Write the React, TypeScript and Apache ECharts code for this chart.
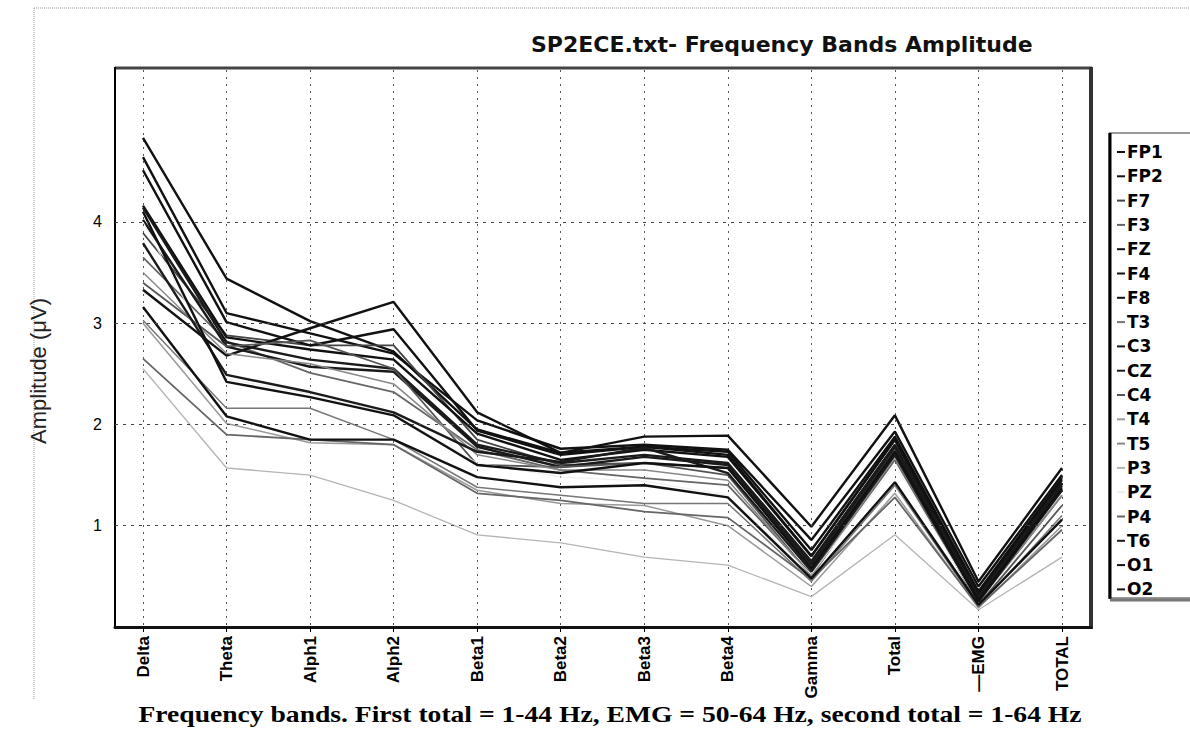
import React, { useEffect, useRef } from "react";
import * as echarts from "echarts";

const categories = ["Delta", "Theta", "Alph1", "Alph2", "Beta1", "Beta2", "Beta3", "Beta4", "Gamma", "Total", "—EMG", "TOTAL"];
const yTicks = [1, 2, 3, 4];

const fp1 = [4.83, 3.44, 3.02, 2.72, 1.95, 1.72, 1.78, 1.70, 0.70, 1.85, 0.30, 1.42];
const fp2 = [4.64, 3.10, 2.90, 2.70, 2.04, 1.76, 1.80, 1.75, 0.86, 1.93, 0.40, 1.50];
const f7 = [3.89, 2.88, 2.78, 2.78, 1.85, 1.60, 1.62, 1.57, 0.60, 1.75, 0.27, 1.38];
const f3 = [3.65, 2.82, 2.51, 2.32, 1.75, 1.55, 1.47, 1.40, 0.52, 1.65, 0.24, 1.30];
const fz = [4.51, 3.01, 2.78, 2.94, 1.94, 1.70, 1.78, 1.73, 0.76, 1.88, 0.35, 1.47];
const f4 = [3.33, 2.68, 2.95, 3.21, 2.12, 1.72, 1.88, 1.89, 0.99, 2.09, 0.45, 1.57];
const f8 = [4.16, 2.86, 2.74, 2.64, 1.91, 1.65, 1.75, 1.68, 0.70, 1.85, 0.33, 1.45];
const t3 = [3.03, 2.16, 2.16, 1.85, 1.38, 1.30, 1.22, 1.22, 0.45, 1.40, 0.20, 1.10];
const c3 = [4.14, 2.81, 2.64, 2.55, 1.80, 1.62, 1.70, 1.62, 0.65, 1.80, 0.30, 1.42];
const cz = [4.02, 2.77, 2.57, 2.52, 1.78, 1.58, 1.68, 1.60, 0.62, 1.78, 0.28, 1.40];
const c4 = [3.40, 2.77, 2.83, 2.55, 1.60, 1.58, 1.62, 1.50, 0.50, 1.70, 0.22, 1.20];
const t4 = [3.00, 2.01, 1.82, 1.80, 1.35, 1.22, 1.20, 1.00, 0.40, 1.32, 0.19, 1.00];
const t5 = [3.50, 2.70, 2.60, 2.40, 1.70, 1.55, 1.55, 1.45, 0.50, 1.68, 0.25, 1.30];
const p3 = [2.55, 1.57, 1.50, 1.25, 0.91, 0.83, 0.69, 0.61, 0.30, 0.91, 0.17, 0.69];
const pz = [4.00, 2.45, 2.30, 2.10, 1.62, 1.48, 1.44, 1.30, 0.52, 1.60, 0.24, 1.25];
const p4 = [2.65, 1.90, 1.85, 1.80, 1.32, 1.25, 1.14, 1.08, 0.47, 1.28, 0.20, 0.96];
const t6 = [3.79, 2.49, 2.32, 2.12, 1.73, 1.63, 1.77, 1.52, 0.55, 1.70, 0.25, 1.35];
const o1 = [4.10, 2.42, 2.27, 2.09, 1.60, 1.52, 1.62, 1.57, 0.58, 1.73, 0.26, 1.37];
const o2 = [3.16, 2.08, 1.85, 1.85, 1.48, 1.38, 1.40, 1.28, 0.48, 1.43, 0.22, 1.06];

const channelNames = ["FP1", "FP2", "F7", "F3", "FZ", "F4", "F8", "T3", "C3", "CZ", "C4", "T4", "T5", "P3", "PZ", "P4", "T6", "O1", "O2"];
const channelData = [fp1, fp2, f7, f3, fz, f4, f8, t3, c3, cz, c4, t4, t5, p3, pz, p4, t6, o1, o2];
const channelColors = ["#111", "#111", "#444", "#666", "#111", "#111", "#111", "#777", "#1a1a1a", "#1a1a1a", "#555", "#999", "#888", "#b5b5b5", "#eeeeee", "#666", "#1a1a1a", "#111", "#111"];
const channelWidths = [2.4, 2.4, 1.8, 1.8, 2.4, 2.4, 2.4, 1.5, 2.4, 2.4, 1.8, 1.5, 1.5, 1.3, 1, 1.8, 2.4, 2.4, 2.4];

export default function App() {
  const ref = useRef<HTMLDivElement>(null);
  useEffect(() => {
    if (!ref.current) return;
    const chart = echarts.init(ref.current, null, { renderer: "svg" });
    const lineSeries = channelNames.map((name, i) => ({
      name,
      type: "line",
      xAxisIndex: 0,
      yAxisIndex: 0,
      data: channelData[i],
      symbol: "none",
      z: 3,
      color: channelColors[i],
      lineStyle: { color: channelColors[i], width: channelWidths[i] },
    }));
    const option: any = {
      animation: false,
      textStyle: { fontFamily: "Liberation Sans" },
      title: {
        text: "SP2ECE.txt- Frequency Bands Amplitude",
        left: 531,
        top: 33,
        padding: 0,
        textStyle: { fontFamily: "DejaVu Sans", fontWeight: "bold", fontSize: 22, color: "#111" },
      },
      legend: {
        data: channelNames,
        orient: "vertical",
        left: 1117,
        top: 142,
        padding: 0,
        icon: "rect",
        itemWidth: 8,
        itemHeight: 2,
        itemGap: 4.3,
        selectedMode: false,
        textStyle: { fontFamily: "DejaVu Sans", fontWeight: "bold", fontSize: 17, lineHeight: 20, color: "#000", padding: [0, 0, 0, -3] },
      },
      grid: [
        { left: 143, right: 128, top: 70, bottom: 105 },
        { left: 115, right: 99, top: 70, bottom: 105 },
      ],
      xAxis: [
        {
          gridIndex: 0,
          type: "category",
          data: categories,
          boundaryGap: false,
          axisLine: { show: false },
          axisTick: { show: true, length: 5, lineStyle: { color: "#000" } },
          axisLabel: { rotate: 90, margin: 9, fontWeight: "bold", fontSize: 17, color: "#000", interval: 0 },
          splitLine: { show: true, lineStyle: { type: [2, 5], color: "#555", width: 1 } },
        },
        {
          gridIndex: 1,
          type: "value",
          min: 0,
          max: 1,
          axisLine: { show: true, onZero: false, lineStyle: { color: "#111", width: 3 } },
          axisTick: { show: false },
          axisLabel: { show: false },
          splitLine: { show: false },
        },
      ],
      yAxis: [
        { gridIndex: 0, type: "value", min: 0, max: 5.5, show: false },
        {
          gridIndex: 1,
          type: "value",
          min: 0,
          max: 5.5,
          interval: 1,
          axisLine: { show: false },
          axisTick: { show: false },
          splitLine: { show: false },
          axisLabel: {
            formatter: (v: number) => (v >= 1 && v <= 4 ? String(v) : ""),
            fontSize: 16,
            color: "#000",
            margin: 13,
          },
        },
      ],
      series: [
        {
          name: "grid",
          type: "line",
          xAxisIndex: 1,
          yAxisIndex: 1,
          data: [],
          silent: true,
          z: 1,
          markLine: {
            symbol: ["none", "none"],
            silent: true,
            label: { show: false },
            lineStyle: { type: [3, 5], color: "#444", width: 1 },
            data: yTicks.map((v) => ({ yAxis: v })),
          },
        },
        ...lineSeries,
      ],
      graphic: [
        { type: "line", shape: { x1: 34, y1: 8, x2: 1190, y2: 8 }, style: { stroke: "#999", lineWidth: 1, lineDash: [1, 1] } },
        { type: "line", shape: { x1: 34, y1: 8, x2: 34, y2: 700 }, style: { stroke: "#999", lineWidth: 1, lineDash: [1, 1] } },
        { type: "line", shape: { x1: 115, y1: 68, x2: 1092, y2: 68 }, style: { stroke: "#444", lineWidth: 3 } },
        { type: "line", shape: { x1: 115, y1: 67, x2: 115, y2: 628 }, style: { stroke: "#000", lineWidth: 2 } },
        { type: "line", shape: { x1: 1091, y1: 67, x2: 1091, y2: 629 }, style: { stroke: "#333", lineWidth: 4 } },
        { type: "rect", shape: { x: 1109, y: 133, width: 90, height: 465 }, style: { fill: "none", stroke: "#333", lineWidth: 1 } },
        { type: "line", shape: { x1: 1110, y1: 133, x2: 1110, y2: 599 }, style: { stroke: "#000", lineWidth: 3 } },
        { type: "line", shape: { x1: 1110, y1: 600, x2: 1190, y2: 600 }, style: { stroke: "#777", lineWidth: 3 } },
        {
          type: "text",
          x: 38,
          y: 371,
          rotation: Math.PI / 2,
          style: { text: "Amplitude (μV)", font: '22px "Liberation Sans"', textAlign: "center", textVerticalAlign: "middle", fill: "#222" },
        },
        {
          type: "text",
          x: 610,
          y: 714,
          scaleX: 1.2,
          style: {
            text: "Frequency bands. First total = 1-44 Hz, EMG = 50-64 Hz, second total = 1-64 Hz",
            font: 'bold 23px "Liberation Serif"',
            textAlign: "center",
            textVerticalAlign: "middle",
            fill: "#000",
          },
        },
      ],
    };
    chart.setOption(option);
    return () => chart.dispose();
  }, []);
  return <div ref={ref} style={{ position: "fixed", left: 0, top: 0, width: 1190, height: 732, background: "#fff" }} />;
}
